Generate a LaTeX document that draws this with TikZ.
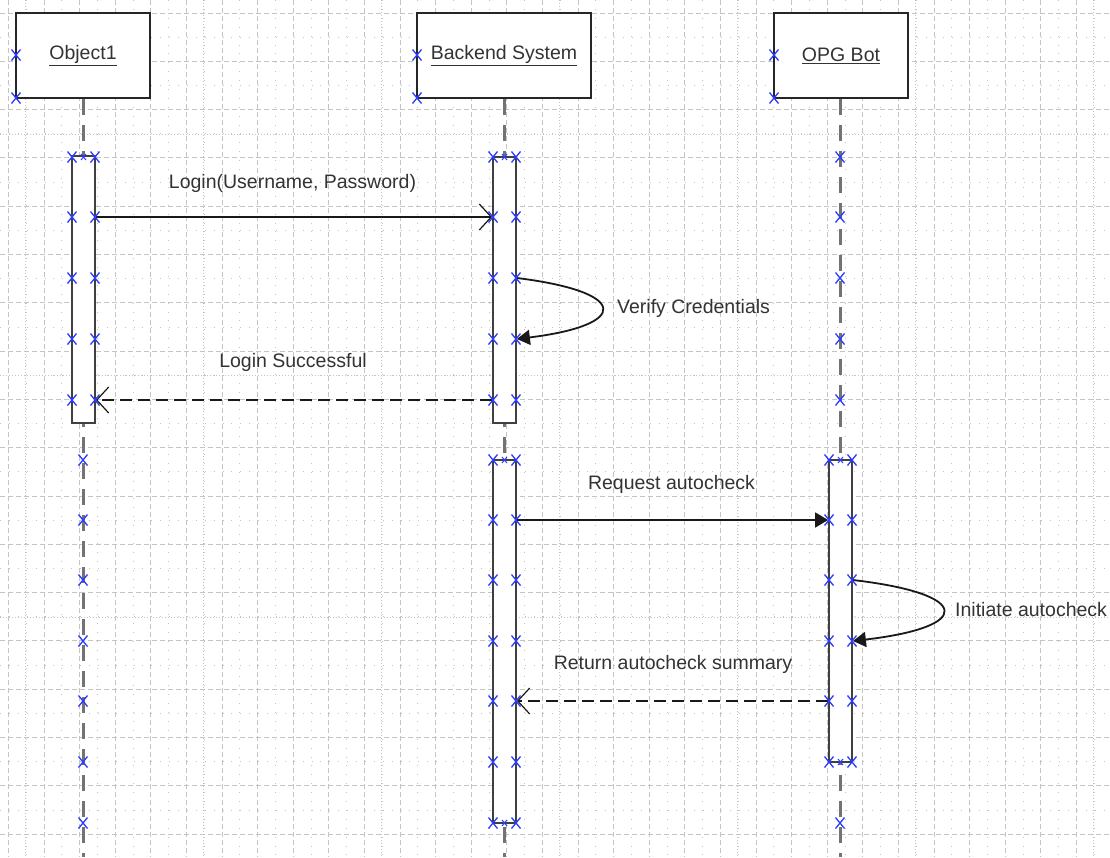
\documentclass[tikz,border=0pt]{standalone}
\usepackage{fontspec}
\setmainfont{Liberation Sans}
\usetikzlibrary{arrows.meta}
\usepackage{xcolor}
\definecolor{markblue}{HTML}{2B3BFF}
\definecolor{gridgray}{HTML}{C4C4C4}

\begin{document}
\begin{tikzpicture}[
    x=1pt, y=-1pt,
    gridmajor/.style={
        draw=gridgray,
        line width=1pt,
        dash pattern=on 5pt off 3pt,
    },
    griddotted/.style={
        draw=gridgray,
        line width=0.9pt,
        dash pattern=on 1pt off 2pt,
    },
    gridminor/.style={
        draw=gridgray,
        line width=0.9pt,
        dash pattern=on 1pt off 7.9pt,
    },
    objbox/.style={
        draw=black!85,
        fill=white,
        line width=1.8pt,
        minimum height=85pt,
        font=\fontsize{19.5}{23}\selectfont,
        text=black!80,
        inner sep=0pt,
    },
    lifeline/.style={
        draw=black!55,
        line width=2.6pt,
        dash pattern=on 16pt off 10pt,
    },
    activation/.style={
        draw=black!75,
        fill=white,
        line width=1.8pt,
        minimum width=23pt,
        inner sep=0pt,
    },
    msg/.style={
        draw=black!90,
        line width=1.8pt,
    },
    reply/.style={
        msg,
        dash pattern=on 12pt off 6pt,
    },
    openhead/.style={
        -{Straight Barb[length=12pt,width=26pt,line width=1.2pt]},
    },
    filledhead/.style={
        -{Triangle[length=13pt,width=15pt]},
    },
    lbl/.style={
        font=\fontsize{19.5}{23}\selectfont,
        text=black!80,
        inner sep=0pt,
    },
    xmark/.style={
        draw=markblue,
        line width=1.3pt,
    },
]

\useasboundingbox (0,0) rectangle (1110,857);
\fill[white] (0,0) rectangle (1110,857);

\begin{scope}
\clip (0,0) rectangle (1110,857);
\foreach \i in {0,...,30}
    \draw[gridminor] ({26.2+35.6*\i},0) -- ({26.2+35.6*\i},857);
\foreach \j in {-1,...,17}
    \draw[gridminor] (0,{37.15+48.3*\j}) -- (1110,{37.15+48.3*\j});
\foreach \i in {0,...,30}
    \draw[gridmajor] ({8.4+35.6*\i},0) -- ({8.4+35.6*\i},857);
\foreach \j in {0,...,17}
    \draw[gridmajor] (0,{13+48.3*\j}) -- (1110,{13+48.3*\j});
\foreach \i in {0,...,6}
    \draw[griddotted] ({25.8+178*\i},0) -- ({25.8+178*\i},857);
\foreach \j in {0,...,3}
    \draw[griddotted] (0,{134+241.5*\j}) -- (1110,{134+241.5*\j});
\end{scope}

\node[objbox, minimum width=134pt] (obj) at (83,55.5) {\underline{Object1}};
\node[objbox, minimum width=174pt] (back) at (504,55.5) {\underline{Backend System}};
\node[objbox, minimum width=134pt] (bot) at (841,55.5) {\underline{OPG Bot}};

\draw[lifeline] (obj.south -| 83.5,0) -- (83.5,857);
\draw[lifeline] (back.south -| 504.5,0) -- (504.5,857);
\draw[lifeline] (bot.south -| 840.5,0) -- (840.5,857);

\node[activation, minimum height=267pt] (actObj) at (83.5,289.5) {};
\node[activation, minimum height=266pt] (actBack1) at (504.5,290) {};
\node[activation, minimum height=363pt] (actBack2) at (504.5,641.5) {};
\node[activation, minimum height=302pt] (actBot) at (840.5,611) {};

\coordinate (login) at (0,217);
\coordinate (verifyA) at (0,278);
\coordinate (verifyB) at (0,339);
\coordinate (success) at (0,400);
\coordinate (request) at (0,520);
\coordinate (initA) at (0,580);
\coordinate (initB) at (0,641);
\coordinate (summary) at (0,701);

\draw[msg, openhead] (actObj.east |- login) -- (actBack1.west |- login);
\draw[msg, filledhead] (actBack1.east |- verifyA)
    .. controls (630,292) and (630,325) .. (actBack1.east |- verifyB);
\draw[reply, openhead] (actBack1.west |- success) -- (actObj.east |- success);
\draw[msg, filledhead] (actBack2.east |- request) -- (actBot.west |- request);
\draw[msg, filledhead] (actBot.east |- initA)
    .. controls (973,594) and (973,627) .. (actBot.east |- initB);
\draw[reply, openhead] (actBot.west |- summary) -- (actBack2.east |- summary);

\node[lbl] (lblLogin) at (292.5,183) {Login(Username, Password)};
\node[lbl, anchor=west] (lblVerify) at (617,308) {Verify Credentials};
\node[lbl] (lblSuccess) at (293,362) {Login Successful};
\node[lbl] (lblRequest) at (671.5,484) {Request autocheck};
\node[lbl, anchor=west] (lblInit) at (955,610) {Initiate autocheck};
\node[lbl] (lblSummary) at (673,664) {Return autocheck summary};

\foreach \x/\y in {16/55, 16/98, 417/55, 417/98, 774/55, 774/98,
        72/157, 95/157, 493/157, 516/157,
        72/217, 95/217, 72/278, 95/278, 72/339, 95/339, 72/400, 95/400,
        493/217, 516/217, 493/278, 516/278, 493/339, 516/339, 493/400, 516/400,
        840/157, 840/217, 840/278, 840/339, 840/400,
        83/460, 83/520, 83/580, 83/641, 83/701, 83/762, 83/823,
        493/460, 516/460, 493/520, 516/520, 493/580, 516/580, 493/641, 516/641,
        493/701, 516/701, 493/762, 516/762, 493/823, 516/823,
        829/460, 852/460, 829/520, 852/520, 829/580, 852/580, 829/641, 852/641,
        829/701, 852/701, 829/762, 852/762, 840/823}
    \draw[xmark] (\x,\y) +(-4.5,-5.5) -- +(4.5,5.5) +(-4.5,5.5) -- +(4.5,-5.5);
\foreach \x/\y in {83.5/157, 504.5/157, 504.5/460, 840.5/460, 504.5/823, 840.5/762}
    \draw[xmark, line width=1pt] (\x,\y) +(-2.5,-3) -- +(2.5,3) +(-2.5,3) -- +(2.5,-3);

\end{tikzpicture}
\end{document}
